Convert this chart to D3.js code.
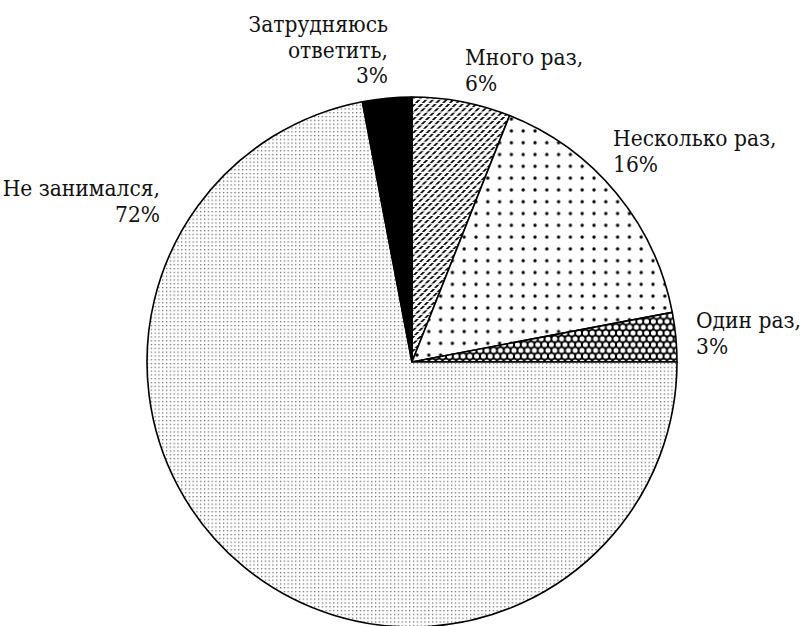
<!DOCTYPE html>
<html>
<head>
<meta charset="utf-8">
<script src="https://cdn.jsdelivr.net/npm/d3@7"></script>
<style>
  body { margin: 0; background: #fff; }
  text { font-family: "DejaVu Serif Condensed", "DejaVu Serif", serif; font-size: 22.5px; fill: #111; }
</style>
</head>
<body>
<div id="chart"></div>
<script>
// clockwise from 12 o'clock
var categories = ["Много раз", "Несколько раз", "Один раз", "Не занимался", "Затрудняюсь ответить"];
var values = [6, 16, 3, 72, 3];
var labelLines = [
  ["Много раз,", "6%"],
  ["Несколько раз,", "16%"],
  ["Один раз,", "3%"],
  ["Не занимался,", "72%"],
  ["Затрудняюсь", "ответить,", "3%"]
];
var fills = ["url(#hatch)", "url(#bigdots)", "url(#mesh)", "url(#finedots)", "#000"];

// label anchor points (layout only)
var labelPos = [
  {x: 465, y: 65, anchor: "start"},
  {x: 613, y: 146, anchor: "start"},
  {x: 696, y: 328, anchor: "start"},
  {x: 160, y: 196, anchor: "end"},
  {x: 388, y: 32, anchor: "end"}
];

var width = 800, height = 626,
    cx = 412, cy = 362, radius = 265, lineH = 25.5;

var svg = d3.select('#chart').append('svg')
    .attr('width', width)
    .attr('height', height);

var defs = svg.append('defs');

// fine gray dots
var p1 = defs.append('pattern').attr('id', 'finedots')
    .attr('patternUnits', 'userSpaceOnUse').attr('width', 3.8).attr('height', 3.8);
p1.append('rect').attr('width', 3.8).attr('height', 3.8).attr('fill', '#fff');
p1.append('rect').attr('x', 1).attr('y', 1).attr('width', 1.2).attr('height', 1.2).attr('fill', '#555');

// big sparse dots
var p2 = defs.append('pattern').attr('id', 'bigdots')
    .attr('patternUnits', 'userSpaceOnUse').attr('width', 11.8).attr('height', 11.8);
p2.append('rect').attr('width', 11.8).attr('height', 11.8).attr('fill', '#fff');
p2.append('circle').attr('cx', 5).attr('cy', 5).attr('r', 1.7).attr('fill', '#000');

// dashed "/" hatch: vertical dashes skewed, so gaps line up in rows
var p3 = defs.append('pattern').attr('id', 'hatch')
    .attr('patternUnits', 'userSpaceOnUse').attr('width', 6.8).attr('height', 4.3)
    .attr('patternTransform', 'skewX(-45)');
p3.append('rect').attr('width', 6.8).attr('height', 4.3).attr('fill', '#fff');
p3.append('rect').attr('x', 2.2).attr('y', 0).attr('width', 2.4).attr('height', 3.2).attr('fill', '#000');

// black mesh with white holes
var p4 = defs.append('pattern').attr('id', 'mesh')
    .attr('patternUnits', 'userSpaceOnUse').attr('width', 6.8).attr('height', 11.6);
p4.append('rect').attr('width', 6.8).attr('height', 11.6).attr('fill', '#000');
[[0, 0], [6.8, 0], [3.4, 5.8], [0, 11.6], [6.8, 11.6]].forEach(function(c) {
  p4.append('circle').attr('cx', c[0]).attr('cy', c[1]).attr('r', 2.5).attr('fill', '#fff');
});

var pie = d3.pie().sort(null).value(function(d) { return d; });
var arc = d3.arc().innerRadius(0).outerRadius(radius);

var g = svg.append('g').attr('transform', 'translate(' + cx + ',' + cy + ')');

g.selectAll('path')
  .data(pie(values))
  .enter().append('path')
    .attr('d', arc)
    .attr('fill', function(d, i) { return fills[i]; })
    .attr('stroke', '#000')
    .attr('stroke-width', 1.6)
    .attr('stroke-linejoin', 'round');

var labels = svg.selectAll('text.label')
  .data(labelLines)
  .enter().append('text')
    .attr('class', 'label')
    .attr('text-anchor', function(d, i) { return labelPos[i].anchor; });

labels.each(function(lines, i) {
  var t = d3.select(this);
  lines.forEach(function(s, j) {
    t.append('tspan')
      .attr('x', labelPos[i].x)
      .attr('y', labelPos[i].y + j * lineH)
      .text(s);
  });
});
</script>
</body>
</html>
